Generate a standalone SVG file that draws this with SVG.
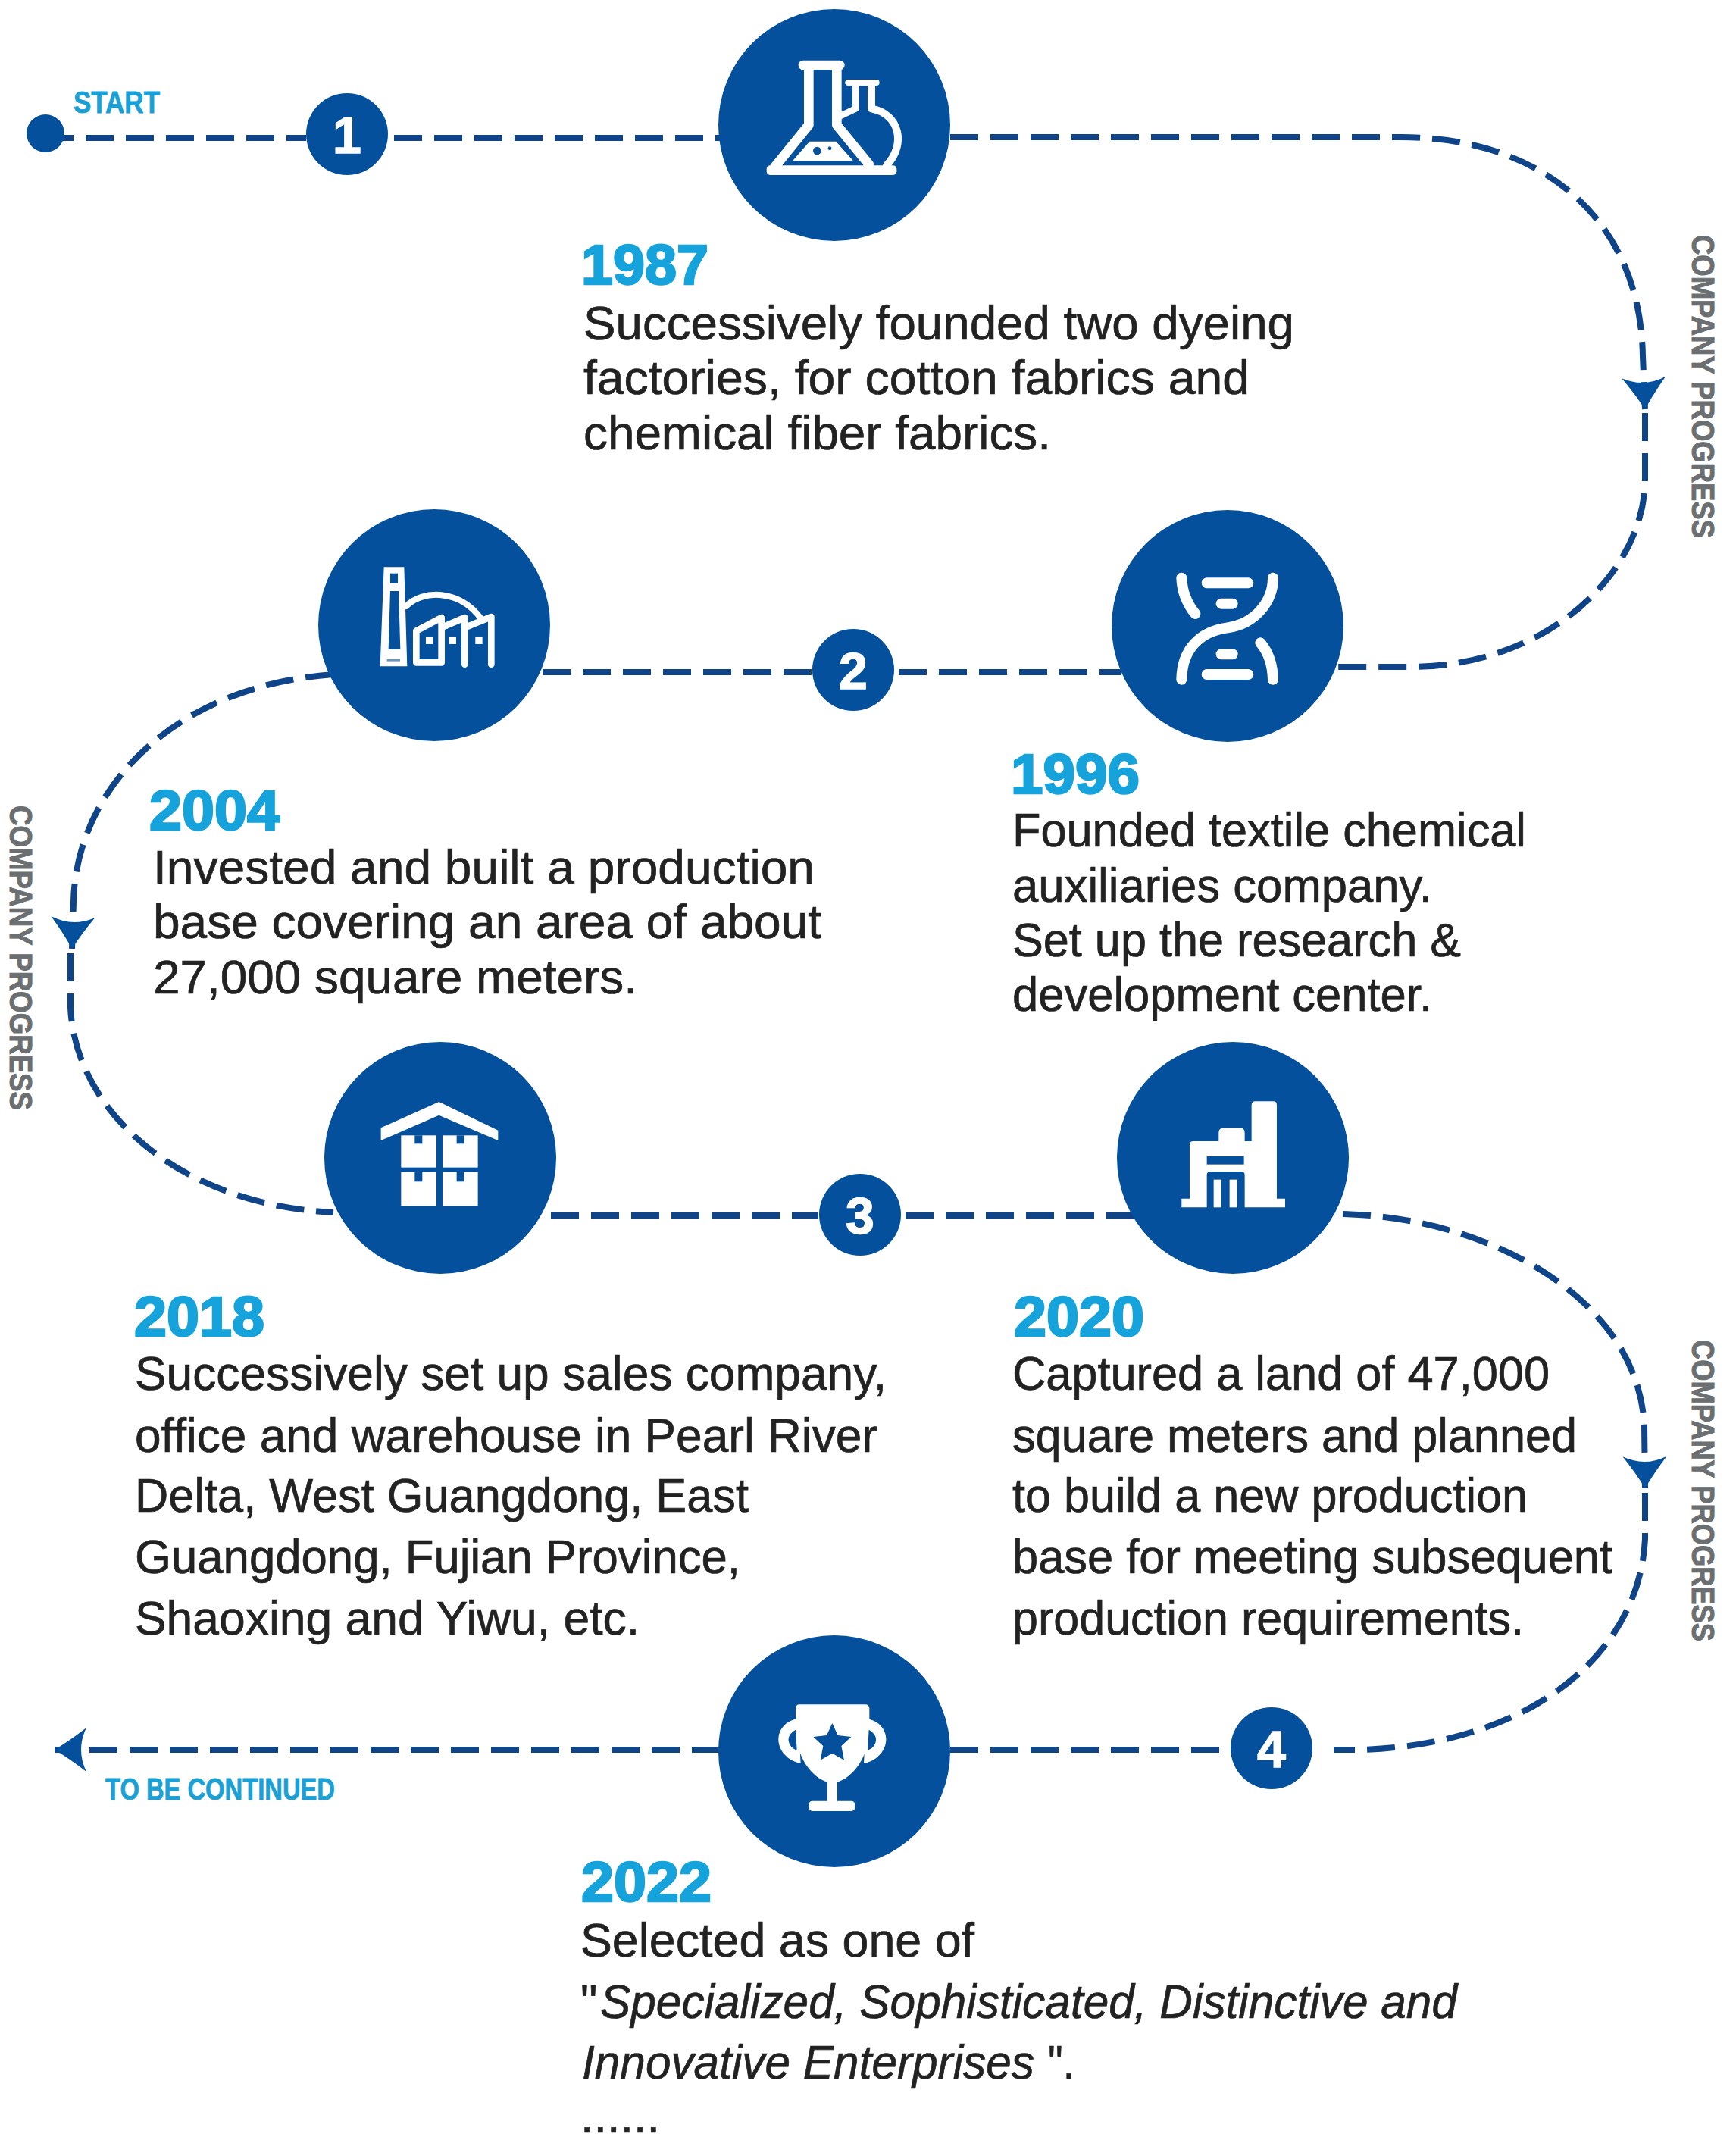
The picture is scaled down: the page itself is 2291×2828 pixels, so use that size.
<svg xmlns="http://www.w3.org/2000/svg" width="2291" height="2828" viewBox="0 0 2291 2828">
<style>
.big{fill:#04509c}
.conn{fill:none;stroke:#0f4488;stroke-width:8;stroke-dasharray:37 16}
.num{font:bold 68px "Liberation Sans",Arial,sans-serif;fill:#fff;text-anchor:middle;stroke:#fff;stroke-width:1.5}
.yr{font:bold 74px "Liberation Sans",Arial,sans-serif;fill:#16a3dc;stroke:#16a3dc;stroke-width:2.5}
.tx{font:63px "Liberation Sans",Arial,sans-serif;fill:#222;stroke:#222;stroke-width:.7}
.it{font-style:italic}
.tag{font:bold 40px "Liberation Sans",Arial,sans-serif;fill:#1aa0d5;stroke:#1aa0d5;stroke-width:.8}
.side{font:bold 43px "Liberation Sans",Arial,sans-serif;fill:#6b6f72;stroke:#6b6f72;stroke-width:1}
.w{fill:#fff}
.wl{fill:none;stroke:#fff;stroke-linecap:round;stroke-linejoin:round}
.b{fill:#04509c}
</style>
<defs>
<marker id="ah" markerUnits="userSpaceOnUse" markerWidth="60" markerHeight="64" refX="42" refY="30" orient="auto" overflow="visible">
<path d="M0,1 Q22,18 42,30 Q22,42 0,59 Q14,30 0,1Z" fill="#04509c"/>
</marker>
</defs>
<rect width="2291" height="2828" fill="#fff"/>
<g id="connectors">
<path class="conn" d="M60,182H404"/>
<path class="conn" d="M520,182H950"/>
<path class="conn" d="M1254,181H1850C2030,181 2165,285 2168,470L2171,540" marker-end="url(#ah)"/>
<path class="conn" d="M2171,545V640C2165,760 2040,880 1860,880H1765"/>
<path class="conn" d="M716,887H1072"/>
<path class="conn" d="M1186,887H1480"/>
<path class="conn" d="M440,890C230,905 100,1040 97,1190L95,1252" marker-end="url(#ah)"/>
<path class="conn" d="M93,1258V1330C100,1470 240,1590 440,1600"/>
<path class="conn" d="M727,1604H1080"/>
<path class="conn" d="M1195,1604H1497"/>
<path class="conn" d="M1772,1602C1960,1606 2160,1710 2170,1880L2171,1964" marker-end="url(#ah)"/>
<path class="conn" d="M2171,1970V2030C2165,2175 2030,2300 1800,2309H1760"/>
<path class="conn" d="M1254,2309H1620"/>
<path class="conn" d="M950,2309H72" marker-end="url(#ah)"/>
</g>
<g id="start"><circle class="big" cx="60" cy="176" r="25"/><text class="tag" x="97" y="149" textLength="114" lengthAdjust="spacingAndGlyphs">START</text></g>
<g id="step-1"><circle class="big" cx="458" cy="177" r="54"/><text class="num" x="458" y="202">1</text></g>
<g id="step-2"><circle class="big" cx="1126" cy="884" r="54"/><text class="num" x="1126" y="909">2</text></g>
<g id="step-3"><circle class="big" cx="1135" cy="1603" r="54"/><text class="num" x="1135" y="1628">3</text></g>
<g id="step-4"><circle class="big" cx="1678" cy="2307" r="54"/><text class="num" x="1678" y="2332">4</text></g>

<g id="node-1987">
<circle class="big" cx="1101" cy="165" r="153"/>
<g transform="translate(1000 50) scale(.3333)">
<rect class="w" x="35" y="505" width="515" height="38" rx="14"/>
<path class="wl" stroke-width="38" d="M180,108H325M202,110V345L68,510M313,110V345L440,500"/>
<path class="w" d="M205,410H310L378,487H138Z"/>
<circle class="b" cx="235" cy="447" r="16"/><circle class="b" cx="285" cy="437" r="7"/>
<path class="wl" stroke-width="24" d="M358,177H470"/>
<path class="wl" stroke-width="30" d="M450,180V280C560,300 590,420 510,505"/>
<path class="wl" stroke-width="26" d="M388,190V280L325,310"/>
</g>
<text class="yr" x="767" y="375" textLength="168" lengthAdjust="spacingAndGlyphs">1987</text>
<text class="tx" x="770" y="448" textLength="938" lengthAdjust="spacingAndGlyphs">Successively founded two dyeing</text>
<text class="tx" x="770" y="520" textLength="879" lengthAdjust="spacingAndGlyphs">factories, for cotton fabrics and</text>
<text class="tx" x="770" y="593" textLength="617" lengthAdjust="spacingAndGlyphs">chemical fiber fabrics.</text>
</g>

<g id="node-1996">
<circle class="big" cx="1620" cy="826" r="153"/>
<g transform="translate(1450 680) scale(.3333)">
<g class="wl" stroke-width="42">
<path d="M690,248C690,340 620,430 510,445C400,460 330,530 328,650"/>
<path d="M328,248C330,300 350,350 382,390"/>
<path d="M640,505C670,540 688,590 690,650"/>
<path d="M428,268H592M485,350H530M485,550H530M428,630H592"/>
</g>
</g>
<text class="yr" x="1334" y="1047" textLength="170" lengthAdjust="spacingAndGlyphs">1996</text>
<text class="tx" x="1336" y="1117" textLength="678" lengthAdjust="spacingAndGlyphs">Founded textile chemical</text>
<text class="tx" x="1336" y="1190" textLength="554" lengthAdjust="spacingAndGlyphs">auxiliaries company.</text>
<text class="tx" x="1336" y="1262" textLength="592" lengthAdjust="spacingAndGlyphs">Set up the research &amp;</text>
<text class="tx" x="1336" y="1334" textLength="554" lengthAdjust="spacingAndGlyphs">development center.</text>
</g>

<g id="node-2004">
<circle class="big" cx="573" cy="825" r="153"/>
<g transform="translate(400 660) scale(.3333)">
<path class="w" d="M320,265H400L412,658H305Z"/>
<rect class="b" x="345" y="290" width="30" height="40"/>
<path class="b" d="M345,360H378L385,590H338Z"/>
<rect class="b" x="332" y="630" width="52" height="8" opacity=".6"/>
<path class="wl" stroke-width="24" stroke-linecap="butt" d="M408,420C470,355 620,350 705,470"/>
<path class="wl" stroke-width="26" stroke-linecap="butt" stroke-linejoin="miter" d="M448,643V518L548,465V643ZM548,505L640,465V650M640,505L745,462V650"/>
<rect class="w" x="486" y="540" width="28" height="30"/><rect class="w" x="578" y="540" width="28" height="30"/><rect class="w" x="682" y="540" width="28" height="30"/>
</g>
<text class="yr" x="197" y="1095" textLength="172" lengthAdjust="spacingAndGlyphs">2004</text>
<text class="tx" x="202" y="1166" textLength="873" lengthAdjust="spacingAndGlyphs">Invested and built a production</text>
<text class="tx" x="202" y="1238" textLength="882" lengthAdjust="spacingAndGlyphs">base covering an area of about</text>
<text class="tx" x="202" y="1311" textLength="639" lengthAdjust="spacingAndGlyphs">27,000 square meters.</text>
</g>

<g id="node-2018">
<circle class="big" cx="581" cy="1528" r="153"/>
<g transform="translate(420 1380) scale(.3333)">
<path class="w" d="M248,325L478,222L712,335V375L478,275L248,375Z"/>
<rect class="w" x="328" y="355" width="140" height="127"/><rect class="w" x="492" y="355" width="140" height="127"/>
<rect class="w" x="328" y="500" width="140" height="135"/><rect class="w" x="492" y="500" width="140" height="135"/>
<rect class="b" x="382" y="355" width="30" height="33"/><rect class="b" x="548" y="355" width="30" height="33"/>
<rect class="b" x="382" y="500" width="30" height="38"/><rect class="b" x="548" y="500" width="30" height="38"/>
</g>
<text class="yr" x="177" y="1763" textLength="172" lengthAdjust="spacingAndGlyphs">2018</text>
<text class="tx" x="178" y="1834" textLength="992" lengthAdjust="spacingAndGlyphs">Successively set up sales company,</text>
<text class="tx" x="178" y="1916" textLength="980" lengthAdjust="spacingAndGlyphs">office and warehouse in Pearl River</text>
<text class="tx" x="178" y="1995" textLength="810" lengthAdjust="spacingAndGlyphs">Delta, West Guangdong, East</text>
<text class="tx" x="178" y="2076" textLength="799" lengthAdjust="spacingAndGlyphs">Guangdong, Fujian Province,</text>
<text class="tx" x="178" y="2157" textLength="666" lengthAdjust="spacingAndGlyphs">Shaoxing and Yiwu, etc.</text>
</g>

<g id="node-2020">
<circle class="big" cx="1627" cy="1528" r="153"/>
<g transform="translate(1460 1400) scale(.3333)">
<path class="w" d="M298,580V545H330V330Q330,318 345,318H445V285Q445,265 465,265H530Q548,265 548,285V318H575V175Q575,160 590,160H660Q675,160 675,175V545H708V580Z"/>
<rect class="b" x="398" y="378" width="147" height="32"/>
<path class="b" d="M398,582V452Q398,438 412,438H534Q548,438 548,452V582Z"/>
<rect class="w" x="425" y="470" width="30" height="110"/><rect class="w" x="488" y="470" width="30" height="110"/>
</g>
<text class="yr" x="1338" y="1763" textLength="172" lengthAdjust="spacingAndGlyphs">2020</text>
<text class="tx" x="1336" y="1834" textLength="709" lengthAdjust="spacingAndGlyphs">Captured a land of 47,000</text>
<text class="tx" x="1336" y="1916" textLength="745" lengthAdjust="spacingAndGlyphs">square meters and planned</text>
<text class="tx" x="1336" y="1995" textLength="680" lengthAdjust="spacingAndGlyphs">to build a new production</text>
<text class="tx" x="1336" y="2076" textLength="792" lengthAdjust="spacingAndGlyphs">base for meeting subsequent</text>
<text class="tx" x="1336" y="2157" textLength="675" lengthAdjust="spacingAndGlyphs">production requirements.</text>
</g>

<g id="node-2022">
<circle class="big" cx="1101" cy="2311" r="153"/>
<g transform="translate(950 2170) scale(.3333)">
<path class="w" d="M315,238H575Q592,238 592,255V330C592,450 520,540 445,550C370,540 300,450 300,330V255Q300,238 315,238Z"/>
<path class="w" d="M310,295C260,300 230,340 232,380C235,430 280,465 320,470Z"/>
<path class="w" d="M580,295C630,300 660,340 658,380C655,430 610,465 570,470Z"/>
<path class="b" d="M300,338C280,350 270,365 272,380C275,400 285,410 305,420Z"/>
<path class="b" d="M590,338C610,350 620,365 618,380C615,400 605,410 585,420Z"/>
<rect class="w" x="425" y="540" width="40" height="90"/>
<rect class="w" x="352" y="620" width="183" height="40" rx="14"/>
<path class="b" d="M445,312L467,360L520,366L481,402L492,458L445,431L398,458L409,402L370,366L423,360Z"/>
</g>
<text class="yr" x="767" y="2509" textLength="172" lengthAdjust="spacingAndGlyphs">2022</text>
<text class="tx" x="766" y="2582" textLength="520" lengthAdjust="spacingAndGlyphs">Selected as one of</text>
<text class="tx" x="766" y="2663">"</text>
<text class="tx it" x="792" y="2663" textLength="1131" lengthAdjust="spacingAndGlyphs">Specialized, Sophisticated, Distinctive and</text>
<text class="tx it" x="768" y="2743" textLength="597" lengthAdjust="spacingAndGlyphs">Innovative Enterprises</text>
<text class="tx" x="1383" y="2743" textLength="35" lengthAdjust="spacingAndGlyphs">".</text>
<text class="tx" x="766" y="2814">......</text>
</g>

<text class="side" transform="translate(2233 310) rotate(90)" textLength="400" lengthAdjust="spacingAndGlyphs">COMPANY PROGRESS</text>
<text class="side" transform="translate(13 1063) rotate(90)" textLength="402" lengthAdjust="spacingAndGlyphs">COMPANY PROGRESS</text>
<text class="side" transform="translate(2233 1768) rotate(90)" textLength="398" lengthAdjust="spacingAndGlyphs">COMPANY PROGRESS</text>
<text class="tag" x="139" y="2375" textLength="303" lengthAdjust="spacingAndGlyphs">TO BE CONTINUED</text>
</svg>
